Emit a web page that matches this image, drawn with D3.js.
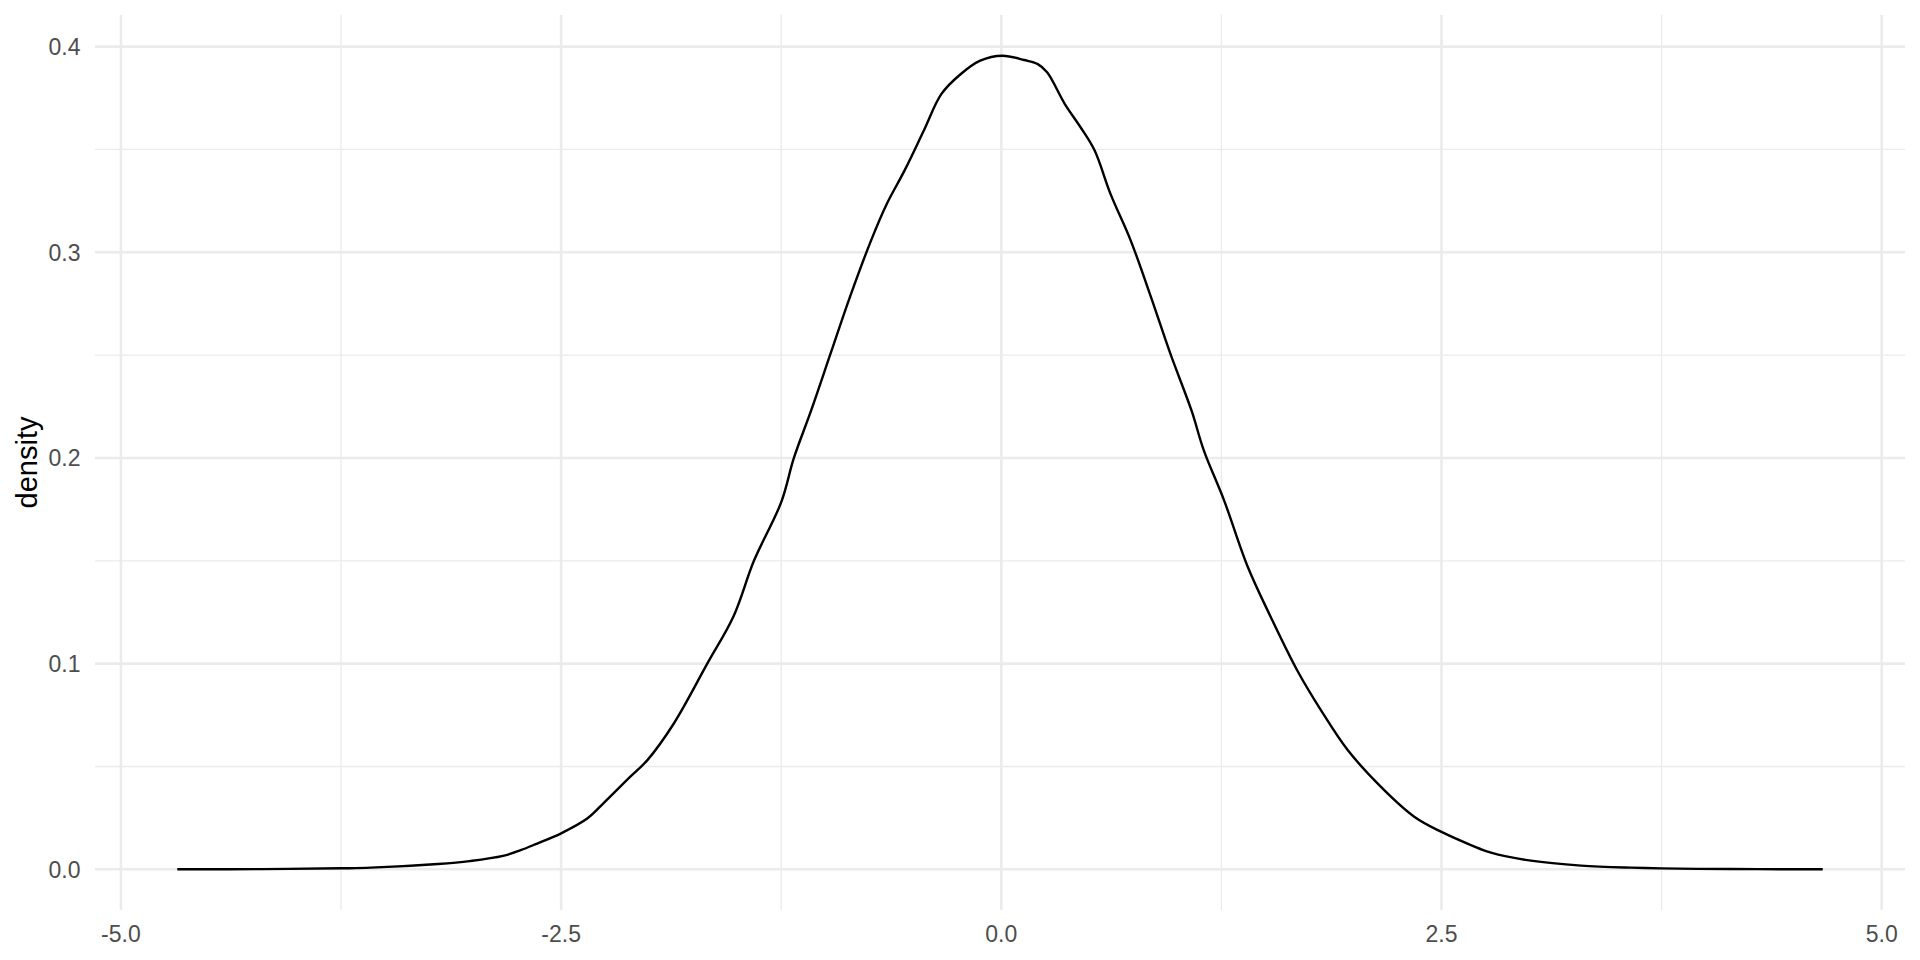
<!DOCTYPE html>
<html>
<head>
<meta charset="utf-8">
<script src="https://cdn.jsdelivr.net/npm/d3@7"></script>
<style>
  html, body { margin: 0; padding: 0; background: #fff; }
  svg { display: block; }
  text { font-family: "Liberation Sans", Arial, Helvetica, sans-serif; }
</style>
</head>
<body>
<svg id="chart" width="1920" height="960"></svg>
<script>
// ---- data ----
const xValues = [-4.68, -4.2, -3.75, -3.58, -3.20, -3.02, -2.83, -2.73, -2.64, -2.50, -2.35, -2.26, -2.11, -2.01,
  -1.86, -1.67, -1.52, -1.405, -1.25, -1.178, -1.08, -0.97, -0.86, -0.74, -0.65, -0.55, -0.44, -0.34, -0.23, -0.12,
  0.006, 0.13, 0.205, 0.26, 0.36, 0.45, 0.53, 0.62, 0.735, 0.85, 0.96, 1.08, 1.15, 1.265, 1.40, 1.53, 1.68, 1.815,
  1.967, 2.156, 2.345, 2.497, 2.667, 2.781, 3.008, 3.292, 3.576, 3.955, 4.30, 4.665];
const densityValues = [0.0000, 0.0001, 0.0005, 0.0008, 0.0026, 0.0040, 0.0065, 0.0093, 0.0124, 0.0175, 0.0248, 0.0321, 0.0448, 0.0531,
  0.0709, 0.1000, 0.1232, 0.1500, 0.1785, 0.2000, 0.2231, 0.2507, 0.2782, 0.3057, 0.3236, 0.3397, 0.3592, 0.3770, 0.3867, 0.3932,
  0.3956, 0.3935, 0.3916, 0.3875, 0.3722, 0.3608, 0.3495, 0.3284, 0.3057, 0.2782, 0.2507, 0.2231, 0.2037, 0.1794, 0.1470, 0.1227, 0.0968, 0.0774,
  0.0580, 0.0401, 0.0256, 0.0183, 0.0118, 0.0081, 0.0042, 0.0018, 0.0008, 0.0002, 0.0001, 0.0000];
const xMajorTicks = [-5, -2.5, 0, 2.5, 5];
const xMinorTicks = [-3.75, -1.25, 1.25, 3.75];
const yMajorTicks = [0, 0.1, 0.2, 0.3, 0.4];
const yMinorTicks = [0.05, 0.15, 0.25, 0.35];
const yTitle = "density";

const data = xValues.map((x, i) => ({ x, y: densityValues[i] }));

// ---- layout ----
const panel = { left: 95, right: 1905, top: 15, bottom: 910 };
const svg = d3.select("#chart");

const xExt = d3.extent(xValues);
const xPad = (xExt[1] - xExt[0]) * 0.05;
const yMax = d3.max(densityValues);
const yPad = yMax * 0.05;

const x = d3.scaleLinear().domain([xExt[0] - xPad, xExt[1] + xPad]).range([panel.left, panel.right]);
const y = d3.scaleLinear().domain([0 - yPad, yMax + yPad]).range([panel.bottom, panel.top]);

const grid = svg.append("g");
grid.selectAll("line.ymin").data(yMinorTicks).join("line")
  .attr("x1", panel.left).attr("x2", panel.right)
  .attr("y1", d => y(d)).attr("y2", d => y(d))
  .attr("stroke", "#EBEBEB").attr("stroke-width", 1.3);
grid.selectAll("line.xmin").data(xMinorTicks).join("line")
  .attr("y1", panel.top).attr("y2", panel.bottom)
  .attr("x1", d => x(d)).attr("x2", d => x(d))
  .attr("stroke", "#EBEBEB").attr("stroke-width", 1.3);
grid.selectAll("line.ymaj").data(yMajorTicks).join("line")
  .attr("x1", panel.left).attr("x2", panel.right)
  .attr("y1", d => y(d)).attr("y2", d => y(d))
  .attr("stroke", "#EBEBEB").attr("stroke-width", 2.6);
grid.selectAll("line.xmaj").data(xMajorTicks).join("line")
  .attr("y1", panel.top).attr("y2", panel.bottom)
  .attr("x1", d => x(d)).attr("x2", d => x(d))
  .attr("stroke", "#EBEBEB").attr("stroke-width", 2.6);

// density line
const line = d3.line().x(d => x(d.x)).y(d => Math.min(y(d.y), y(0))).curve(d3.curveCatmullRom.alpha(0.5));
svg.append("path").datum(data)
  .attr("d", line)
  .attr("fill", "none")
  .attr("stroke", "#000")
  .attr("stroke-width", 2.4)
  .attr("stroke-linejoin", "round");

// axis labels
const fmt = v => d3.format(".1f")(v).replace("\u2212", "-");
svg.append("g").selectAll("text").data(yMajorTicks).join("text")
  .attr("x", 80.5).attr("y", d => y(d) + 8.3)
  .attr("text-anchor", "end")
  .attr("font-size", 23)
  .attr("fill", "#4D4D4D")
  .text(d => fmt(d));

svg.append("g").selectAll("text").data(xMajorTicks).join("text")
  .attr("x", d => x(d)).attr("y", 941.5)
  .attr("text-anchor", "middle")
  .attr("font-size", 23)
  .attr("fill", "#4D4D4D")
  .text(d => fmt(d));

svg.append("text")
  .attr("transform", `translate(36.5, ${(panel.top + panel.bottom) / 2}) rotate(-90)`)
  .attr("text-anchor", "middle")
  .attr("font-size", 29)
  .attr("fill", "#000")
  .text(yTitle);
</script>
</body>
</html>
